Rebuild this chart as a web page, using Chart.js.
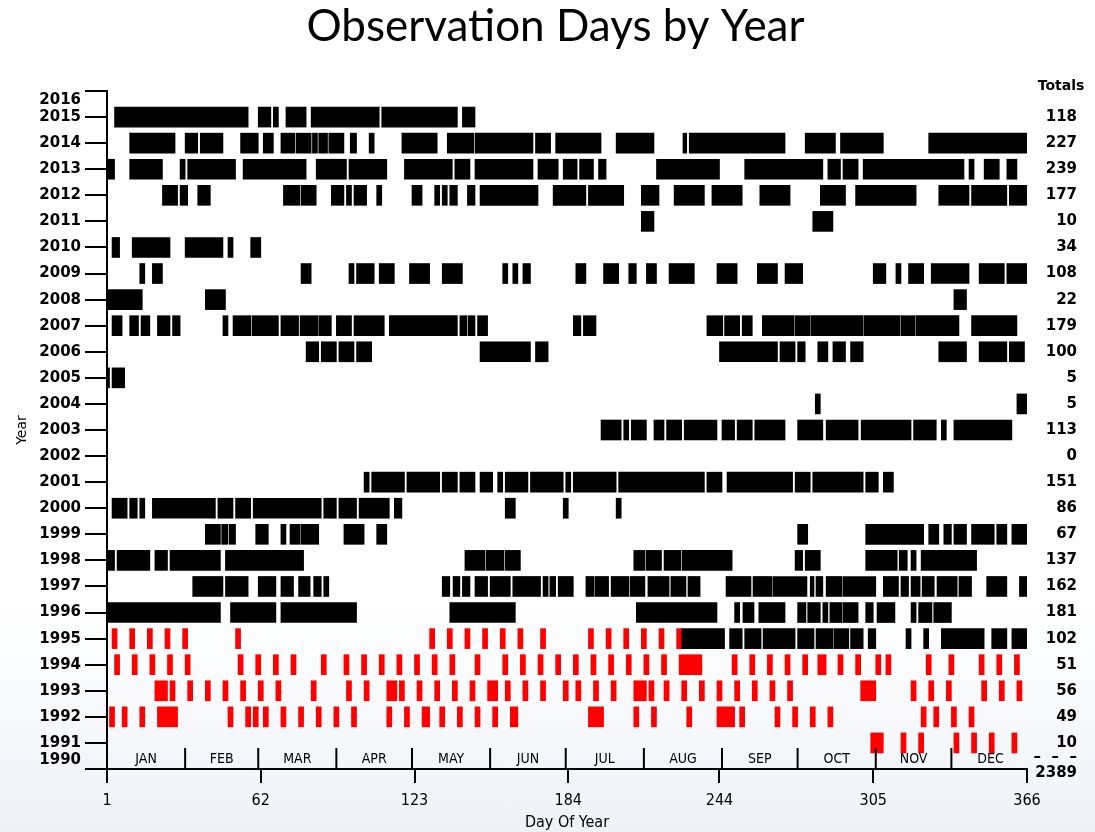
<!DOCTYPE html>
<html>
<head>
<meta charset="utf-8">
<title>Observation Days by Year</title>
<script src="https://cdn.jsdelivr.net/npm/chart.js@4.4.1/dist/chart.umd.min.js"></script>
<style>
  html, body { margin: 0; padding: 0; }
  body {
    width: 1095px;
    height: 832px;
    overflow: hidden;
    background: linear-gradient(to bottom, #ffffff 0%, #ffffff 72%, #eef2f7 100%);
  }
  canvas { display: block; }
</style>
</head>
<body>
<canvas id="obs" width="1095" height="832"></canvas>
<script>
// day ranges [start, end] (day of year), one list per year
const y2015 = [[4,57],[61,66],[67,69],[72,80],[82,109],[110,140],[142,147]];
const y2014 = [[10,28],[32,37],[38,47],[54,61],[63,67],[70,75.5],[76,82],[82.5,84.5],[85,88.5],[89,95],[97.5,100],[105,107],[118,132],[136,146.5],[147,170],[171,177],[179,197],[203,218],[229.5,231],[232,270],[278,290],[292,309],[327,366]];
const y2013 = [[1,4],[10,23],[30,32],[33,52],[55,80],[84,96],[97,112],[119,138],[139,145],[147,170],[172,180],[182,187.5],[188.5,194],[196,199],[219,244],[254,285],[287,292],[293,299],[301,341],[343,345],[349,355],[358,362]];
const y2012 = [[23,29],[30,33],[37,42],[71,77.5],[78,84],[90,95],[96,98],[99,104],[108,110],[122,126],[131,133],[134,136],[137,140],[144,147],[149,172],[178,191],[192,206],[213,220],[226,238],[241,253],[260,272],[284,294],[298,322],[331,343],[344,358],[359,366]];
const y2011 = [[213,218],[281,289]];
const y2010 = [[3,6],[11,26],[32,47],[49,51],[58,62]];
const y2009 = [[14,16],[19,23],[78,82],[97,99],[100,107],[109,115],[121,129],[134,142],[158,160],[162,164],[166,169],[187,191],[198,204],[208,211],[215,219],[224,234],[243,251],[259,267],[270,277],[305,310],[314,316],[319,325],[328,343],[347,357],[358,366]];
const y2008 = [[1,15],[40,48],[337,342]];
const y2007 = [[3,7],[10,13.5],[14.5,18],[21,26],[27,30],[47,49],[51,58],[58.5,69],[70,77],[77.6,84.6],[85,90],[92,98],[99,111],[113,140],[141,143.7],[144.2,147],[148,152],[186,189],[190,195],[239,245.3],[246,252],[253,257],[261,273.6],[274,280],[280.4,301],[301.4,315.6],[316,321.6],[322,339],[344,362]];
const y2006 = [[80,85],[86,92],[93,99],[100,106],[149,169],[171,176],[244,267],[268,274],[275,278],[283,287],[289,294],[296,301],[331,342],[347,358],[359,365]];
const y2005 = [[1,2],[3,8]];
const y2004 = [[282,284],[362,366]];
const y2003 = [[197,205],[206,208],[209,215],[218,222],[223,229],[230,243],[245,250],[251,257],[258,270],[275,285],[286.3,299],[300.2,320],[321,330],[332,334],[337,360]];
const y2002 = [];
const y2001 = [[103,105],[106,119],[120,133],[134,140],[141,147],[149,154],[156,158],[159,168],[169,182],[183,185],[186,203],[204,238],[239,245],[247,273],[274,280],[281,301],[302,307],[309,313]];
const y2000 = [[3,9],[10,13],[14,16],[19,44],[45,51],[52,58],[59,86],[87,92],[93,100],[101,113],[115,118],[159,163],[182,184],[203,205]];
const y1999 = [[40,46],[46.5,49],[49.5,52],[60,65],[70,72],[73.6,77.6],[78,85],[95,103],[108,112],[275,279],[302,325],[327,331],[333,336],[337,342],[344,353],[354,358],[360,366]];
const y1998 = [[1,4],[5,18],[20,25],[26,46],[48,79],[143,151],[151.5,158.5],[159,165],[210,214.3],[214.8,221],[222,228.7],[229.2,249],[274,277],[278,284],[302,314.5],[315.3,318.5],[320,322],[324,346]];
const y1997 = [[35,47],[48,57],[61,68],[70,75],[77,81.6],[83,86],[87,89],[134,137],[138.3,141],[142,145],[147,152],[153,161],[162,173],[174,176],[176.7,179],[180,186],[191,194.2],[194.6,200],[201,208],[208.5,214.4],[215.6,224],[224.7,230.7],[231.5,236.3],[246.6,256.5],[257.3,264.8],[265.2,278.7],[280,281.5],[282.3,285],[286.3,292.6],[293,306],[309,315],[316,319],[320,323.6],[324.4,329.2],[330.3,338.3],[339,344],[350,358],[363,366]];
const y1996 = [[1,46],[50,68],[70,100],[137,163],[211,243],[250,252],[253.3,257.7],[259.6,270],[275,278.3],[279,284],[285,287],[287.8,292.6],[293,299],[302,305],[306.5,313.6],[320,322],[323,328.3],[329,336]];
const y1995 = [[229,246],[248,253],[254,260.5],[261.3,274],[275,281.5],[282.3,289],[289.4,295.3],[296,301],[303,306],[318,320],[325,327],[332,349],[352,358],[360,366]];

// red marks (early years)
const r1995 = [[3,5],[10,12],[17,19],[24,26],[31,33],[52,54],[129,131],[136,138],[143,145],[150,152],[157,159],[164,166],[173,175],[192,194],[199,201],[206,208],[213,215],[220,222],[227,229]];
const r1994 = [[4,6],[11,13],[18,20],[25,27],[32,34],[53,55],[60,62],[67,69],[74,76],[86,88],[95,97],[102,104],[109,111],[116,118],[123,125],[130,132],[137,139],[147,149],[158,160],[165,167],[172,174],[179,181],[186,188],[193,195],[200,202],[207,209],[214,216],[221,223],[228,237],[249,251],[256,258],[263,265],[270,272],[277,279],[283,286.3],[291,293],[298,300],[306,308],[310,312],[326,328],[335,337],[347,349],[354,356],[361,363]];
const r1993 = [[20,25],[26,28],[33,35],[40,42],[47,49],[54,56],[61,63],[68,70],[82,84],[96,98],[103,105],[112,116],[117,119],[124,126],[131,133],[138,140],[145,147],[152,156],[159,161],[166,168],[173,175],[182,184],[187,189],[194,196],[201,203],[210,215],[216,218],[222,224],[229,231],[236,238],[243,245],[250,252],[257,259],[264,266],[271,273],[300,306],[320,322],[327,329],[334,336],[348,350],[355,357],[362,364]];
const r1992 = [[2,4],[7,9],[14,16],[21,29],[49,51],[56,58],[59,61],[63,65],[70,72],[77,79],[84,86],[91,93],[98,100],[112,114],[119,121],[126,129],[133,135],[140,142],[147,149],[154,156],[161,164],[192,198],[210,212],[217,219],[231,233],[243,250],[252,254],[266,268],[273,275],[280,282],[287,289],[324,326],[329,331],[336,338],[343,345]];
const r1991 = [[304,309],[316,318],[323,325],[337,339],[344,346],[351,353],[360,362]];

const totalYears = [2015,2014,2013,2012,2011,2010,2009,2008,2007,2006,2005,2004,2003,2002,2001,2000,1999,1998,1997,1996,1995,1994,1993,1992,1991];
const totals = [118,227,239,177,10,34,108,22,179,100,5,5,113,0,151,86,67,137,162,181,102,51,56,49,10];
const grandTotal = 2389;

const dayTicks = [1, 62, 123, 184, 244, 305, 366];
const monthNames = ['JAN','FEB','MAR','APR','MAY','JUN','JUL','AUG','SEP','OCT','NOV','DEC'];
const monthStarts = [1, 32, 61, 92, 122, 153, 183, 214, 245, 275, 306, 336, 367];

const YEAR_MIN = 1990;
const YEAR_MAX = 2016;
const RULE_POS = 1990.46;   // where the "- - -" sits on the totals column
const GRAND_POS = 1989.85;  // grand total sits just under the 1990 line

const GEO_FONT = "'DejaVu Sans', sans-serif";
const NARROW_FONT = "'DejaVu Sans Condensed', 'Liberation Sans Narrow', 'DejaVu Sans', sans-serif";

const blackRows = [
  [2015, y2015], [2014, y2014], [2013, y2013], [2012, y2012], [2011, y2011],
  [2010, y2010], [2009, y2009], [2008, y2008], [2007, y2007], [2006, y2006],
  [2005, y2005], [2004, y2004], [2003, y2003], [2002, y2002], [2001, y2001],
  [2000, y2000], [1999, y1999], [1998, y1998], [1997, y1997], [1996, y1996],
  [1995, y1995]
];
const redRows = [[1995, r1995], [1994, r1994], [1993, r1993], [1992, r1992], [1991, r1991]];

const toPoints = (rows) => rows.flatMap(([year, spans]) => spans.map((span) => ({ x: span, y: year })));

const yearTicks = [];
for (let v = YEAR_MIN; v <= YEAR_MAX; v++) {
  yearTicks.push({ value: v });
}

const monthPlugin = {
  id: 'months',
  afterDatasetsDraw(chart) {
    const { ctx, chartArea, scales: { x, y2 } } = chart;
    ctx.save();
    ctx.strokeStyle = '#000';
    ctx.fillStyle = '#000';
    ctx.lineWidth = 2;
    ctx.font = `14px ${NARROW_FONT}`;
    ctx.textAlign = 'center';
    ctx.textBaseline = 'middle';

    monthNames.forEach((name, i) => {
      const x0 = x.getPixelForValue(monthStarts[i]);
      const x1 = x.getPixelForValue(monthStarts[i + 1]);
      if (i > 0) {
        ctx.beginPath();
        ctx.moveTo(x0, chartArea.bottom - 21);
        ctx.lineTo(x0, chartArea.bottom - 1);
        ctx.stroke();
      }
      ctx.fillText(name, (x0 + x1) / 2, chartArea.bottom - 10);
    });

    ctx.font = `bold 14px ${GEO_FONT}`;
    ctx.fillText('Totals', chartArea.right + 34, y2.getPixelForValue(YEAR_MAX) - 5);
    ctx.restore();
  }
};

new Chart(document.getElementById('obs'), {
  type: 'bar',
  data: {
    datasets: [
      {
        label: 'Observed',
        data: toPoints(blackRows),
        backgroundColor: '#000000',
        borderWidth: 0,
        barThickness: 20,
        grouped: false,
        yAxisID: 'y'
      },
      {
        label: 'Observed (red)',
        data: toPoints(redRows),
        backgroundColor: '#ff0000',
        borderWidth: 0,
        barThickness: 20,
        grouped: false,
        yAxisID: 'y'
      }
    ]
  },
  options: {
    indexAxis: 'y',
    responsive: false,
    animation: false,
    layout: { padding: { left: 34, right: 18, top: 0, bottom: 0 } },
    plugins: {
      legend: { display: false },
      tooltip: { enabled: false },
      title: {
        display: true,
        text: 'Observation Days by Year',
        color: '#000',
        font: { family: 'Lato', size: 44, weight: 'normal' },
        padding: { top: 0, bottom: 38.2 }
      }
    },
    scales: {
      x: {
        type: 'linear',
        min: 1,
        max: 366,
        afterBuildTicks: (scale) => { scale.ticks = dayTicks.map((v) => ({ value: v })); },
        afterFit: (scale) => { scale.height = 63; },
        ticks: {
          autoSkip: false,
          maxRotation: 0,
          color: '#000',
          padding: 8,
          font: { family: NARROW_FONT, size: 16 }
        },
        grid: { drawOnChartArea: false, tickLength: 14, color: '#000', lineWidth: 2 },
        border: { color: '#000', width: 2 },
        title: {
          display: true,
          text: 'Day Of Year',
          color: '#000',
          font: { family: NARROW_FONT, size: 16 },
          padding: { top: 0, bottom: 0 }
        }
      },
      y: {
        type: 'linear',
        position: 'left',
        min: YEAR_MIN,
        max: YEAR_MAX,
        offset: false,
        afterBuildTicks: (scale) => { scale.ticks = yearTicks.map((t) => ({ ...t })); },
        afterFit: (scale) => { scale.width = 73; },
        ticks: {
          autoSkip: false,
          color: '#000',
          padding: 4,
          font: { family: GEO_FONT, size: 15, weight: 'bold' },
          callback: (v) => {
            if (v === YEAR_MAX) return ['', String(v)];
            if (v === YEAR_MIN) return [String(v), ''];
            return String(v);
          }
        },
        grid: { offset: false, drawOnChartArea: false, tickLength: 22, color: '#000', lineWidth: 2 },
        border: { color: '#000', width: 2 },
        title: {
          display: true,
          text: 'Year',
          color: '#000',
          font: { family: GEO_FONT, size: 14 },
          padding: { top: -20, bottom: 0 }
        }
      },
      y2: {
        type: 'linear',
        position: 'right',
        min: YEAR_MIN,
        max: YEAR_MAX,
        offset: false,
        afterBuildTicks: (scale) => {
          scale.ticks = totalYears.map((v) => ({ value: v })).concat([{ value: RULE_POS }, { value: GRAND_POS }]);
        },
        afterFit: (scale) => { scale.width = 50; },
        ticks: {
          autoSkip: false,
          crossAlign: 'far',
          color: '#000',
          padding: 8,
          font: { family: GEO_FONT, size: 15, weight: 'bold' },
          callback: (v) => {
            if (v === GRAND_POS) return String(grandTotal);
            if (v === RULE_POS) return '–  –  –';
            const i = totalYears.indexOf(v);
            return i >= 0 ? String(totals[i]) : '';
          }
        },
        grid: { display: false, drawTicks: false, drawOnChartArea: false },
        border: { display: false }
      }
    }
  },
  plugins: [monthPlugin]
});
</script>
</body>
</html>
